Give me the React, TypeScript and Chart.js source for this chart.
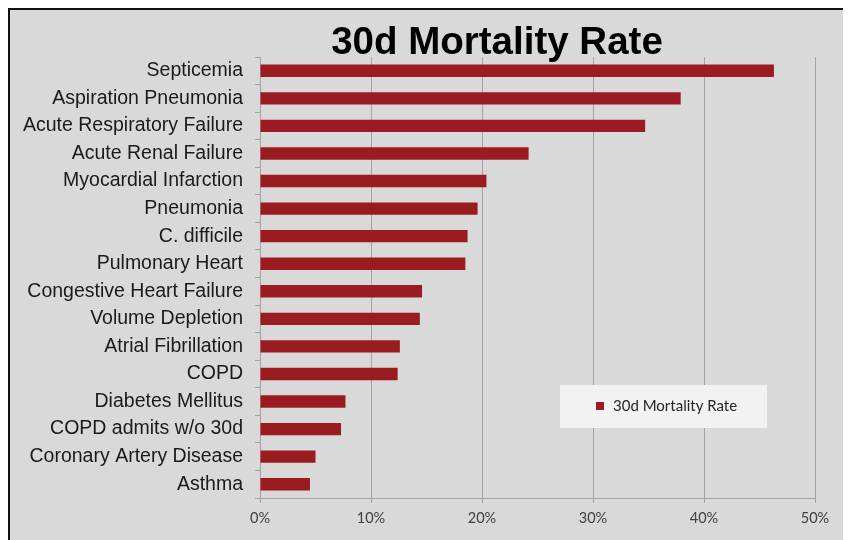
import React, { useEffect, useRef } from "react";
import { Chart, registerables } from "chart.js";

Chart.register(...registerables);

const TITLE = "30d Mortality Rate";
const SERIES_LABEL = "30d Mortality Rate";
const categories = [
  "Septicemia",
  "Aspiration Pneumonia",
  "Acute Respiratory Failure",
  "Acute Renal Failure",
  "Myocardial Infarction",
  "Pneumonia",
  "C. difficile",
  "Pulmonary Heart",
  "Congestive Heart Failure",
  "Volume Depletion",
  "Atrial Fibrillation",
  "COPD",
  "Diabetes Mellitus",
  "COPD admits w/o 30d",
  "Coronary Artery Disease",
  "Asthma",
];
const mortalityRate = [46.3, 37.9, 34.7, 24.2, 20.4, 19.6, 18.7, 18.5, 14.6, 14.4, 12.6, 12.4, 7.7, 7.3, 5.0, 4.5];
const xTicks = [0, 10, 20, 30, 40, 50];

const BAR = "#9a1c21";
const W = 843;
const H = 532;

export default function App() {
  const ref = useRef<HTMLCanvasElement>(null);
  useEffect(() => {
    document.documentElement.style.overflow = "hidden";
    document.body.style.overflow = "hidden";
    const canvas = ref.current!;
    const decor = {
      id: "decor",
      beforeDraw(chart: any) {
        const ctx = chart.ctx;
        ctx.save();
        ctx.fillStyle = "#d9d9d9";
        ctx.fillRect(0, 0, W, H);
        ctx.strokeStyle = "#111";
        ctx.lineWidth = 2;
        ctx.beginPath();
        ctx.moveTo(1, H);
        ctx.lineTo(1, 1);
        ctx.lineTo(W, 1);
        ctx.stroke();
        ctx.restore();
      },
      afterDraw(chart: any) {
        const ctx = chart.ctx;
        ctx.save();
        ctx.fillStyle = "#000";
        ctx.font = "bold 38.5px 'Liberation Sans', Arial, sans-serif";
        ctx.textAlign = "center";
        ctx.textBaseline = "alphabetic";
        ctx.fillText(TITLE, 489, 46);
        // legend
        ctx.fillStyle = "#f2f2f2";
        ctx.fillRect(552, 377, 207, 43);
        ctx.fillStyle = BAR;
        ctx.fillRect(588, 394, 8, 8);
        ctx.fillStyle = "#262626";
        ctx.font = "15px Lato, 'Open Sans', sans-serif";
        ctx.textAlign = "left";
        ctx.textBaseline = "middle";
        ctx.fillText(chart.data.datasets[0].label, 605, 398);
        ctx.restore();
      },
    };
    const chart = new Chart(canvas, {
      type: "bar",
      data: {
        labels: categories,
        datasets: [
          {
            label: SERIES_LABEL,
            data: mortalityRate,
            backgroundColor: BAR,
            borderWidth: 0,
            barPercentage: 0.9,
            categoryPercentage: 0.5,
          },
        ],
      },
      options: {
        indexAxis: "y",
        responsive: false,
        animation: false,
        layout: { padding: { top: 49, right: 36, left: 0, bottom: 0 } },
        plugins: { legend: { display: false }, title: { display: false }, tooltip: { enabled: false } },
        scales: {
          x: {
            min: 0,
            max: 50,
            afterFit: (s: any) => {
              s.height = 42;
            },
            afterBuildTicks: (s: any) => {
              s.ticks = xTicks.map((v) => ({ value: v }));
            },
            grid: {
              color: "#a3a3a3",
              lineWidth: 1,
              tickLength: 5,
              drawTicks: true,
            },
            border: { color: "#a3a3a3", width: 1 },
            ticks: {
              color: "#404040",
              font: { family: "Lato, 'Open Sans', sans-serif", size: 14.5 },
              padding: 7,
              callback: (v: any) => v + "%",
            },
          },
          y: {
            afterFit: (s: any) => {
              s.width = 252;
            },
            grid: {
              drawOnChartArea: false,
              tickLength: 5,
              color: "#a3a3a3",
              offset: true,
            },
            border: { color: "#a3a3a3", width: 1 },
            ticks: {
              color: "#1a1a1a",
              font: { family: "'Liberation Sans', Arial, sans-serif", size: 19.5 },
              padding: 12,
              autoSkip: false,
            },
          },
        },
      },
      plugins: [decor],
    });
    return () => chart.destroy();
  }, []);
  return (
    <div style={{ width: W, height: H }}>
      <canvas ref={ref} width={W} height={H} style={{ width: W, height: H, display: "block" }} />
    </div>
  );
}
